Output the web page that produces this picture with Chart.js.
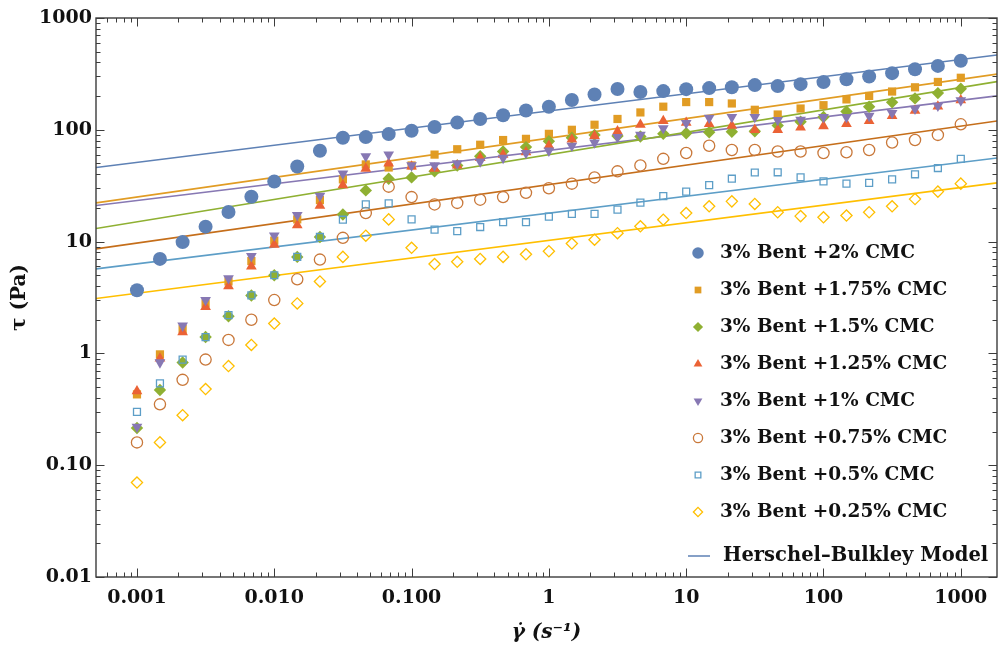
<!DOCTYPE html>
<html>
<head>
<meta charset="utf-8">
<script src="https://cdn.jsdelivr.net/npm/chart.js@4.4.1/dist/chart.umd.min.js"></script>
<style>
  html, body { margin: 0; padding: 0; background: #fff; }
  #wrap { width: 999px; height: 647px; position: relative; }
</style>
</head>
<body>
<div id="wrap"><canvas id="flowCurveChart"></canvas></div>
<script>
// shear rate (1/s), shared by all series
var shear_rate = [0.001, 0.00147, 0.00215, 0.00316, 0.00464, 0.00681,
    0.01, 0.0147, 0.0215, 0.0316, 0.0464, 0.0681,
    0.1, 0.147, 0.215, 0.316, 0.464, 0.681,
    1, 1.47, 2.15, 3.16, 4.64, 6.81,
    10, 14.7, 21.5, 31.6, 46.4, 68.1,
    100, 147, 215, 316, 464, 681, 1000];

// shear stress (Pa) per CMC content
var tau_2 = [3.67, 7.0, 9.9, 13.6, 18.4, 25.2, 34.5, 47, 65, 85, 86, 91.5, 98, 106, 116, 125, 135, 149,
    161, 185, 207, 232, 218, 222, 231, 236, 240, 251, 246, 256, 267, 283, 300, 321, 348, 373, 415];
var tau_175 = [0.43, 0.98, 1.65, 2.8, 4.4, 6.7, 10.2, 15.8, 23.5, 36, 49, 46, 48, 60, 67, 73.5, 81, 83,
    92, 100, 111, 125, 143, 161, 177, 177, 172, 151, 137, 155, 166, 187, 201, 220, 240, 268, 292];
var tau_15 = [0.215, 0.47, 0.83, 1.4, 2.15, 3.3, 5.0, 7.3, 11, 17.5, 28.7, 36.5, 37.5, 42.5, 48, 58, 64, 70,
    79, 85, 90, 88, 87, 92, 93, 95, 96, 97, 109, 118, 130, 146, 161, 176, 191, 213, 233];
var tau_125 = [0.46, 0.90, 1.55, 2.6, 4.0, 6.0, 9.4, 14, 21, 32, 45, 50, 47, 45, 48, 56, 60, 63,
    72, 82, 88, 97, 111, 120, 116, 113, 109, 100, 100, 105, 108, 113, 120, 133, 148, 162, 184];
var tau_1 = [0.22, 0.83, 1.77, 3.0, 4.7, 7.4, 11.3, 17.3, 25.7, 40.5, 58, 60, 48, 48, 50, 52, 56, 62,
    65, 72, 77, 86, 90, 103, 115, 128, 130, 130, 122, 123, 130, 130, 133, 141, 154, 164, 183];
var tau_075 = [0.16, 0.35, 0.58, 0.88, 1.32, 2.0, 3.0, 4.6, 6.9, 10.8, 18, 31, 25, 21.5, 22.2, 23.7, 25, 27.3,
    30, 33, 37.5, 42.5, 48, 55, 62, 72, 66, 66, 64, 64, 62, 63, 66, 77, 81, 90, 112];
var tau_05 = [0.30, 0.54, 0.88, 1.4, 2.2, 3.3, 5.0, 7.3, 11, 15.7, 21.5, 22, 15.8, 12.8, 12.4, 13.5, 14.9, 14.9,
    16.7, 17.7, 17.7, 19.3, 22.3, 25.5, 28, 32, 36.5, 41.5, 41.7, 37.6, 34.6, 33, 33.5, 36, 40, 45.5, 55];
var tau_025 = [0.070, 0.16, 0.28, 0.48, 0.77, 1.19, 1.85, 2.8, 4.4, 7.3, 11.3, 15.8, 8.8, 6.3, 6.6, 7.0, 7.3, 7.7,
    8.2, 9.6, 10.4, 11.9, 13.7, 15.7, 18, 20.7, 22.9, 21.7, 18.3, 16.9, 16.5, 17.1, 18.3, 20.7, 24, 28, 33];

var series_labels = ['3% Bent +2% CMC', '3% Bent +1.75% CMC', '3% Bent +1.5% CMC', '3% Bent +1.25% CMC',
    '3% Bent +1% CMC', '3% Bent +0.75% CMC', '3% Bent +0.5% CMC', '3% Bent +0.25% CMC'];
var model_label = 'Herschel\u2013Bulkley Model';

// Herschel-Bulkley fit, stress at the two ends of the shear rate axis
var fit_rate = [0.000503, 1835];
var fit_2 = [46, 467];
var fit_175 = [22.2, 315];
var fit_15 = [13.1, 270];
var fit_1 = [21, 201];
var fit_075 = [8.6, 120];
var fit_05 = [5.7, 56];
var fit_025 = [3.1, 33.5];

var x_tick_values = [0.001, 0.01, 0.1, 1, 10, 100, 1000];
var x_tick_labels = ['0.001', '0.010', '0.100', '1', '10', '100', '1000'];
var y_tick_values = [0.01, 0.1, 1, 10, 100, 1000];
var y_tick_labels = ['0.01', '0.10', '1', '10', '100', '1000'];

var series_values = [tau_2, tau_175, tau_15, tau_125, tau_1, tau_075, tau_05, tau_025];
var marker_styles = [
    {color: '#5E81B5', shape: 'circle', r: 7, rot: 0, open: false},
    {color: '#E19C24', shape: 'rect', r: 5.8, rot: 0, open: false},
    {color: '#8FB032', shape: 'rectRot', r: 6.2, rot: 0, open: false},
    {color: '#EB6235', shape: 'triangle', r: 6.2, rot: 0, open: false},
    {color: '#8778B3', shape: 'triangle', r: 6.2, rot: 180, open: false},
    {color: '#C9783A', shape: 'circle', r: 5.6, rot: 0, open: true},
    {color: '#5D9EC7', shape: 'rect', r: 4.9, rot: 0, open: true},
    {color: '#FFBF00', shape: 'rectRot', r: 5.6, rot: 0, open: true}
];
var fit_values = [fit_2, fit_175, fit_15, fit_1, fit_075, fit_05, fit_025];
var fit_colors = ['#5E81B5', '#E19C24', '#8FB032', '#8778B3', '#C56E1A', '#5D9EC7', '#FFBF00'];

var serif = '"DejaVu Serif", "Liberation Serif", serif';

function toPoints(xs, ys) {
    return xs.map((x, i) => ({x: x, y: ys[i]}));
}

function logTicks(scale) {
    var ticks = [];
    for (var e = -5; e <= 4; e++) {
        for (var m = 1; m <= 9; m++) {
            var v = m * Math.pow(10, e);
            if (v >= scale.min * 0.9999 && v <= scale.max * 1.0001) ticks.push({value: v});
        }
    }
    scale.ticks = ticks;
}

function labelFor(values, labels) {
    return function(value) {
        for (var i = 0; i < values.length; i++) {
            if (Math.abs(value / values[i] - 1) < 1e-6) return labels[i];
        }
        return '';
    };
}

function isDecade(v) {
    var l = Math.log10(v);
    return Math.abs(l - Math.round(l)) < 1e-6;
}

var datasets = [];
series_values.forEach((vals, i) => {
    var s = marker_styles[i];
    datasets.push({
        label: series_labels[i],
        data: toPoints(shear_rate, vals),
        showLine: false,
        pointStyle: s.shape,
        pointRadius: s.r,
        pointRotation: s.rot,
        pointBackgroundColor: s.open ? 'rgba(0,0,0,0)' : s.color,
        pointBorderColor: s.color,
        pointBorderWidth: s.open ? 1.3 : 0,
        order: 8 - i,
        isMarker: true,
        styleIndex: i
    });
});
fit_values.forEach((vals, i) => {
    datasets.push({
        label: 'fit',
        data: toPoints(fit_rate, vals),
        showLine: true,
        borderColor: fit_colors[i],
        borderWidth: 1.6,
        pointRadius: 0,
        fill: false,
        order: 20
    });
});

// frame with inward ticks on all four sides
var frameTicks = {
    id: 'frameTicks',
    afterDraw(chart) {
        var ctx = chart.ctx, a = chart.chartArea, xs = chart.scales.x, ys = chart.scales.y;
        ctx.save();
        ctx.strokeStyle = '#3c3c3c';
        ctx.lineWidth = 1;
        ctx.beginPath();
        xs.ticks.forEach(t => {
            var px = Math.round(xs.getPixelForValue(t.value)) + 0.5;
            var len = isDecade(t.value) ? 8.5 : 4.5;
            ctx.moveTo(px, a.bottom); ctx.lineTo(px, a.bottom - len);
            ctx.moveTo(px, a.top); ctx.lineTo(px, a.top + len);
        });
        ys.ticks.forEach(t => {
            var py = Math.round(ys.getPixelForValue(t.value)) + 0.5;
            var len = isDecade(t.value) ? 8.5 : 4.5;
            ctx.moveTo(a.left, py); ctx.lineTo(a.left + len, py);
            ctx.moveTo(a.right, py); ctx.lineTo(a.right - len, py);
        });
        ctx.stroke();
        ctx.lineWidth = 1.4;
        ctx.strokeRect(a.left, a.top, a.right - a.left, a.bottom - a.top);
        ctx.restore();
    }
};

// legend inside the plot, lower right
var insideLegend = {
    id: 'insideLegend',
    afterDraw(chart) {
        var ctx = chart.ctx;
        var markerX = 698, textX = 720, rowY = 253, step = 37;
        ctx.save();
        ctx.font = 'bold 18.5px ' + serif;
        ctx.textBaseline = 'middle';
        ctx.textAlign = 'left';
        chart.data.datasets.filter(d => d.isMarker).forEach((d, i) => {
            var s = marker_styles[d.styleIndex];
            var y = rowY + i * step;
            ctx.fillStyle = s.open ? 'rgba(0,0,0,0)' : s.color;
            ctx.strokeStyle = s.color;
            ctx.lineWidth = 1.3;
            Chart.helpers.drawPoint(ctx, {
                pointStyle: s.shape,
                radius: s.r * 0.82,
                rotation: s.rot,
                borderWidth: s.open ? 1.3 : 0
            }, markerX, y);
            ctx.fillStyle = '#111';
            ctx.fillText(d.label, textX, y);
        });
        var hy = 556;
        ctx.strokeStyle = fit_colors[0];
        ctx.lineWidth = 1.5;
        ctx.beginPath();
        ctx.moveTo(688, hy); ctx.lineTo(710, hy);
        ctx.stroke();
        ctx.fillStyle = '#111';
        ctx.font = 'bold 19.5px ' + serif;
        ctx.fillText(model_label, 723, hy);
        ctx.restore();
    }
};

new Chart(document.getElementById('flowCurveChart'), {
    type: 'scatter',
    data: {datasets: datasets},
    options: {
        responsive: true,
        maintainAspectRatio: false,
        animation: false,
        events: [],
        devicePixelRatio: 1,
        layout: {autoPadding: false, padding: {top: 18, right: 2, left: 0, bottom: 0}},
        plugins: {
            legend: {display: false},
            tooltip: {enabled: false}
        },
        scales: {
            x: {
                type: 'logarithmic',
                position: 'bottom',
                min: fit_rate[0],
                max: fit_rate[1],
                grid: {display: false, drawTicks: false},
                border: {display: false},
                afterBuildTicks: logTicks,
                afterFit: s => { s.height = 70; s.paddingLeft = 0; s.paddingRight = 0; },
                ticks: {
                    autoSkip: false,
                    maxRotation: 0,
                    padding: 10,
                    color: '#111',
                    font: {family: serif, weight: 'bold', size: 19},
                    callback: labelFor(x_tick_values, x_tick_labels)
                },
                title: {
                    display: true,
                    text: '\u03B3\u0307 (s\u207B\u00B9)',
                    color: '#111',
                    font: {family: serif, weight: 'bold', style: 'italic', size: 20},
                    padding: {top: 0, bottom: 2}
                }
            },
            y: {
                type: 'logarithmic',
                position: 'left',
                min: 0.01,
                max: 1000,
                grid: {display: false, drawTicks: false},
                border: {display: false},
                afterBuildTicks: logTicks,
                afterFit: s => { s.width = 96; s.paddingTop = 0; s.paddingBottom = 0; },
                ticks: {
                    autoSkip: false,
                    padding: 4,
                    color: '#111',
                    font: {family: serif, weight: 'bold', size: 19},
                    callback: labelFor(y_tick_values, y_tick_labels)
                },
                title: {
                    display: true,
                    text: '\u03C4 (Pa)',
                    color: '#111',
                    font: {family: serif, weight: 'bold', size: 20},
                    padding: {top: 8, bottom: 0}
                }
            }
        }
    },
    plugins: [frameTicks, insideLegend]
});
</script>
</body>
</html>
